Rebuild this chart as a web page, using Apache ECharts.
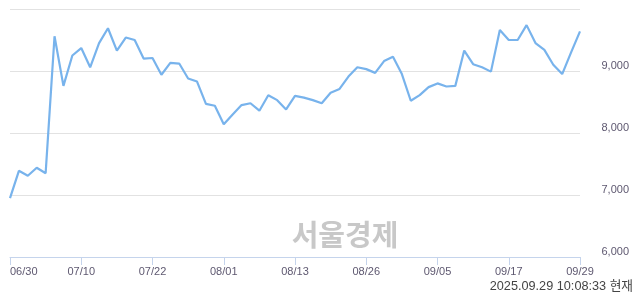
<!DOCTYPE html>
<html>
<head>
<meta charset="utf-8">
<script src="https://cdn.jsdelivr.net/npm/echarts@6/dist/echarts.min.js"></script>
<style>
html,body{margin:0;padding:0;background:#fff;}
#chart{width:640px;height:294px;}
</style>
</head>
<body>
<div id="chart"></div>
<script>
const dates = [
  '06/30','07/01','07/02','07/03','07/04','07/07','07/08','07/09','07/10',
  '07/11','07/14','07/15','07/16','07/17','07/18','07/21','07/22',
  '07/23','07/24','07/25','07/28','07/29','07/30','07/31','08/01',
  '08/04','08/05','08/06','08/07','08/08','08/11','08/12','08/13',
  '08/14','08/18','08/19','08/20','08/21','08/22','08/25','08/26',
  '08/27','08/28','08/29','09/01','09/02','09/03','09/04','09/05',
  '09/08','09/09','09/10','09/11','09/12','09/15','09/16','09/17',
  '09/18','09/19','09/22','09/23','09/24','09/25','09/26','09/29'
];
const prices = [
  6950, 7390, 7310, 7440, 7350, 9560, 8760, 9250, 9370,
  9060, 9450, 9690, 9330, 9540, 9500, 9200, 9210,
  8940, 9130, 9120, 8880, 8830, 8470, 8440, 8140,
  8300, 8450, 8480, 8360, 8610, 8530, 8380, 8600,
  8570, 8530, 8480, 8650, 8710, 8910, 9060, 9030,
  8970, 9160, 9230, 8950, 8520, 8610, 8740, 8800,
  8750, 8760, 9330, 9110, 9060, 8990, 9660, 9500,
  9500, 9740, 9450, 9340, 9100, 8950, 9300, 9640
];
const yMin = 6000, yMax = 10000, yStep = 1000;
const stampText = '2025.09.29 10:08:33 현재';
const watermarkText = '서울경제';

const chart = echarts.init(document.getElementById('chart'), null, {renderer: 'canvas'});
chart.setOption({
  animation: false,
  backgroundColor: '#ffffff',
  grid: {left: 10, right: 60, top: 9, bottom: 37},
  xAxis: {
    type: 'category',
    data: dates,
    boundaryGap: false,
    axisLine: {show: true, lineStyle: {color: '#c5d4ec', width: 1}},
    axisTick: {show: true, interval: 7, length: 8, lineStyle: {color: '#c5d4ec'}},
    axisLabel: {
      interval: 7, margin: 9, color: '#5e5870',
      fontFamily: 'Liberation Sans', fontSize: 11,
      alignMinLabel: 'left'
    },
    splitLine: {show: false}
  },
  yAxis: {
    type: 'value',
    position: 'right',
    min: yMin, max: yMax, interval: yStep,
    axisLine: {show: false},
    axisTick: {show: false},
    splitLine: {show: true, lineStyle: {color: '#e2e2e2', width: 1}},
    axisLabel: {
      showMaxLabel: false,
      margin: 49, align: 'right', verticalAlign: 'bottom',
      color: '#5e5870', fontFamily: 'Liberation Sans', fontSize: 11,
      formatter: v => v.toLocaleString('en-US')
    }
  },
  graphic: [
    {
      type: 'text', x: 345, y: 235, z: 0,
      style: {text: watermarkText, fill: '#c8c8c8', align: 'center', verticalAlign: 'middle',
              font: 'bold 29px "Noto Sans CJK KR"'}
    },
    {
      type: 'text', x: 633, y: 286, z: 10,
      style: {text: stampText, fill: '#444444', align: 'right', verticalAlign: 'middle',
              font: '12.7px "Liberation Sans", "Noto Sans CJK KR"'}
    }
  ],
  series: [{
    type: 'line',
    data: prices,
    symbol: 'none',
    lineStyle: {color: '#78b3ec', width: 2.2},
    z: 5
  }]
});
</script>
</body>
</html>
